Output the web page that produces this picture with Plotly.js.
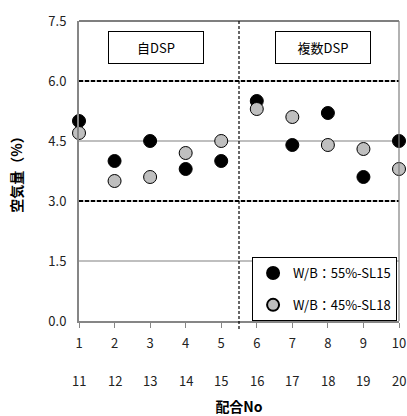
<!DOCTYPE html>
<html>
<head>
<meta charset="utf-8">
<script src="https://cdn.plot.ly/plotly-3.0.1.min.js"></script>
<style>html,body{margin:0;padding:0;background:#fff;}#chart{width:407px;height:416px;}</style>
</head>
<body>
<div id="chart"></div>
<script>
// ---- data ----
const mixNoTop = [1, 2, 3, 4, 5, 6, 7, 8, 9, 10];
const mixNoBottom = [11, 12, 13, 14, 15, 16, 17, 18, 19, 20];
const wb55 = [5.0, 4.0, 4.5, 3.8, 4.0, 5.5, 4.4, 5.2, 3.6, 4.5];
const wb45 = [4.7, 3.5, 3.6, 4.2, 4.5, 5.3, 5.1, 4.4, 4.3, 3.8];
const seriesNames = ['W/B：55%-SL15', 'W/B：45%-SL18'];
const yTicks = [0, 1.5, 3.0, 4.5, 6.0, 7.5];
const limitLines = [3.0, 6.0];
const groupSplit = 5.5;
const groupLabels = ['自DSP', '複数DSP'];
const groupLabelX = [3.17, 7.86];

const FONT = '"Noto Sans CJK JP", "Noto Sans", sans-serif';

const traces = [
  {
    x: mixNoTop, y: wb55, name: seriesNames[0], type: 'scatter', mode: 'markers',
    legendgroup: 'a', cliponaxis: false,
    marker: {size: 13, color: '#000000', line: {color: '#000000', width: 1}}
  },
  {
    x: mixNoTop, y: wb45, name: seriesNames[1], type: 'scatter', mode: 'markers',
    legendgroup: 'b', cliponaxis: false,
    marker: {size: 13, color: '#BFBFBF', line: {color: '#000000', width: 1}}
  }
];

const shapes = [];
limitLines.forEach(v => shapes.push({
  type: 'line', xref: 'paper', x0: 0, x1: 1, yref: 'y', y0: v, y1: v,
  line: {color: '#000', width: 2, dash: '4px,2px'}, layer: 'above'
}));
// top border
shapes.push({type: 'line', xref: 'paper', x0: 0, x1: 1, yref: 'paper', y0: 1, y1: 1,
  line: {color: '#000', width: 1.2}});
// right border
shapes.push({type: 'line', xref: 'paper', x0: 1, x1: 1, yref: 'paper', y0: 0, y1: 1,
  line: {color: '#7f7f7f', width: 1.2}});
// group split
shapes.push({type: 'line', xref: 'x', x0: groupSplit, x1: groupSplit, yref: 'paper', y0: -0.027, y1: 1,
  line: {color: '#000', width: 1.2, dash: '3px,2px'}});

const annotations = [];
groupLabels.forEach((t, i) => annotations.push({
  text: t, x: groupLabelX[i], y: 6.84, xref: 'x', yref: 'y', showarrow: false,
  width: 92, height: 29, bordercolor: '#000', borderwidth: 1, bgcolor: '#fff',
  font: {family: FONT, size: 13, color: '#000'}
}));
mixNoTop.forEach((x, i) => annotations.push({
  text: String(mixNoBottom[i]), x: x, y: -0.197, xref: 'x', yref: 'paper',
  showarrow: false, yanchor: 'middle', font: {family: FONT, size: 13, color: '#222'}
}));

const layout = {
  width: 407, height: 416,
  margin: {l: 79, r: 8, t: 21, b: 95, pad: 0},
  paper_bgcolor: '#fff', plot_bgcolor: '#fff',
  font: {family: FONT, size: 13, color: '#222'},
  showlegend: true,
  legend: {
    x: 0.994, xanchor: 'right', y: 0, yanchor: 'bottom',
    bgcolor: '#fff', bordercolor: '#000', borderwidth: 1,
    font: {family: FONT, size: 13, color: '#000'},
    traceorder: 'grouped', tracegroupgap: 12, itemsizing: 'constant', itemwidth: 30
  },
  xaxis: {
    range: [1, 10], tickvals: mixNoTop, ticktext: mixNoTop.map(String),
    showgrid: false, zeroline: false,
    showline: true, linecolor: '#868686', linewidth: 2,
    ticks: 'outside', ticklen: 5, tickcolor: '#868686', tickwidth: 1,
    ticklabelstandoff: 4,
    tickfont: {family: FONT, size: 13, color: '#222'},
    title: {text: '<b>配合No</b>', font: {family: FONT, size: 14, color: '#000'}, standoff: 54},
    automargin: false
  },
  yaxis: {
    range: [0, 7.5], tickvals: yTicks, ticktext: yTicks.map(v => v.toFixed(1)),
    showgrid: true, gridcolor: '#BFBFBF', gridwidth: 1.5, zeroline: false,
    showline: true, linecolor: '#868686', linewidth: 2,
    ticks: '', ticklabelstandoff: 8,
    tickfont: {family: FONT, size: 13, color: '#222'},
    title: {text: '<b>空気量（%）</b>', font: {family: FONT, size: 14, color: '#000'}, standoff: 22},
    automargin: false
  },
  shapes: shapes,
  annotations: annotations
};

Plotly.newPlot('chart', traces, layout, {displayModeBar: false, staticPlot: true});
</script>
</body>
</html>
